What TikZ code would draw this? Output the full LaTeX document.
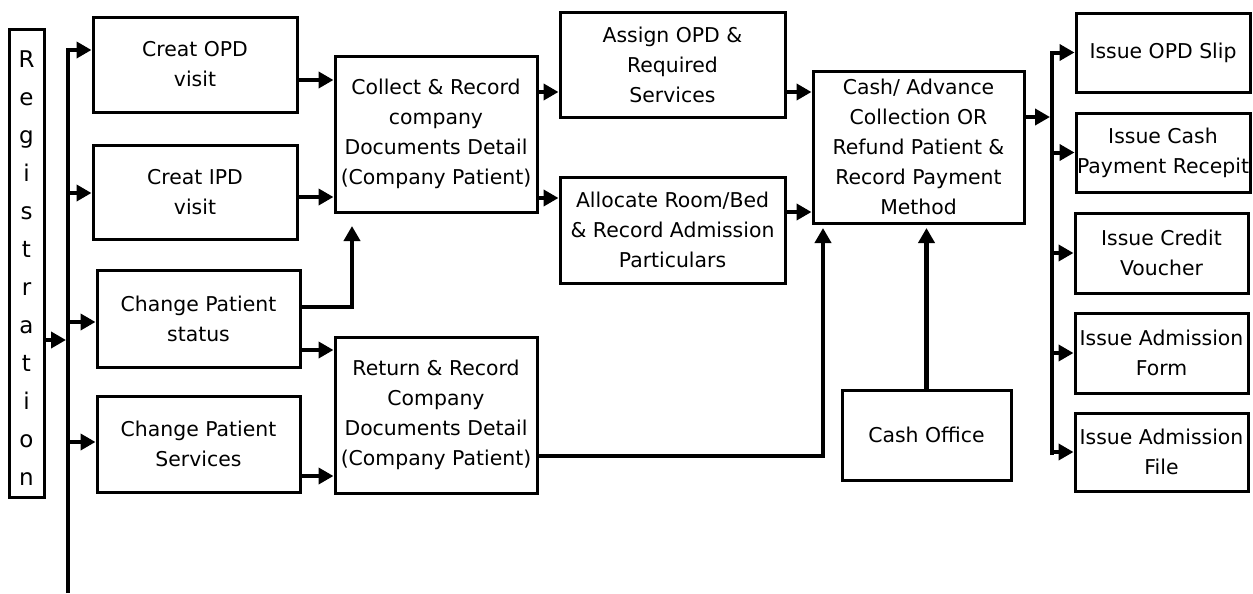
\documentclass[tikz,border=0pt]{standalone}
\usepackage{fontspec}
\setmainfont{DejaVu Sans}
\usetikzlibrary{arrows.meta}
\begin{document}
\begin{tikzpicture}[x=0.5pt,y=-0.5pt,
  box/.style={draw,line width=1.5pt,align=center,inner sep=0pt,font=\fontsize{10.2}{15}\selectfont},
  conn/.style={line width=2pt},
  arr/.style={conn,-{Triangle[length=7.5pt,width=8pt]}}]
\useasboundingbox (0,0) rectangle (1253,594);
% nodes
\node[box,minimum width=17.5pt,minimum height=234pt] (reg) at (26.5,263) {};
\node[font=\fontsize{11.5}{19}\selectfont,align=center,inner sep=0pt] (regtxt) at (26.5,268) {R\\e\\g\\i\\s\\t\\r\\a\\t\\i\\o\\n};
\node[box,minimum width=102pt,minimum height=47.5pt] (opd) at (195,64.5) {Creat OPD\\visit};
\node[box,minimum width=102pt,minimum height=47pt] (ipd) at (195,192) {Creat IPD\\visit};
\node[box,minimum width=101.5pt,minimum height=48.5pt] (cps) at (198.5,318.5) {Change Patient\\status};
\node[box,minimum width=101.5pt,minimum height=48pt] (cpsv) at (198.5,444) {Change Patient\\Services};
\node[box,minimum width=101pt,minimum height=78pt] (collect) at (436,134) {Collect \& Record\\company\\Documents Detail\\(Company Patient)};
\node[box,minimum width=101pt,minimum height=78pt] (return) at (436,415) {Return \& Record\\Company\\Documents Detail\\(Company Patient)};
\node[box,minimum width=112.5pt,minimum height=52.5pt] (assign) at (672.5,64.5) {Assign OPD \&\\Required\\Services};
\node[box,minimum width=112.5pt,minimum height=53pt] (alloc) at (672.5,230) {Allocate Room/Bed\\\& Record Admission\\Particulars};
\node[box,minimum width=105.5pt,minimum height=76pt] (cash) at (918.5,147) {Cash/ Advance\\Collection OR\\Refund Patient \&\\Record Payment\\Method};
\node[box,minimum width=84.5pt,minimum height=45pt] (office) at (926.5,435) {Cash Office};
\node[box,minimum width=87pt,minimum height=39.5pt] (slip) at (1163,52.5) {Issue OPD Slip};
\node[box,minimum width=87pt,minimum height=39.5pt] (receipt) at (1163,152.5) {Issue Cash\\Payment Recepit};
\node[box,minimum width=86.5pt,minimum height=40pt] (voucher) at (1161.5,253) {Issue Credit\\Voucher};
\node[box,minimum width=86.5pt,minimum height=40pt] (aform) at (1161.5,353) {Issue Admission\\Form};
\node[box,minimum width=86.5pt,minimum height=39pt] (afile) at (1161.5,452) {Issue Admission\\File};
% coordinates
\coordinate (bustop) at (68,50);
\coordinate (busbot) at (68,593);
\coordinate (busreg) at (68,340);
\coordinate (cin) at (352,226);
\coordinate (cin2) at (823,228);
\coordinate (rb) at (1052,0);
% left bus
\draw[arr] (busbot) |- (opd.west |- bustop);
\draw[arr] (reg.east |- busreg) -- ([xshift=-1pt]busreg);
\draw[arr] (bustop |- 0,193) -- (ipd.west |- 0,193);
\draw[arr] (bustop |- 0,322) -- (cps.west |- 0,322);
\draw[arr] (bustop |- 0,442) -- (cpsv.west |- 0,442);
% to collect / return
\draw[arr] (opd.east |- 0,80) -- (collect.west |- 0,80);
\draw[arr] (ipd.east |- 0,197) -- (collect.west |- 0,197);
\draw[arr] (cps.east |- 0,307) -| (cin);
\draw[arr] (cps.east |- 0,350) -- (return.west |- 0,350);
\draw[arr] (cpsv.east |- 0,476) -- (return.west |- 0,476);
% middle
\draw[arr] (collect.east |- 0,92) -- (assign.west |- 0,92);
\draw[arr] (collect.east |- 0,198) -- (alloc.west |- 0,198);
\draw[arr] (assign.east |- 0,92) -- (cash.west |- 0,92);
\draw[arr] (alloc.east |- 0,212) -- (cash.west |- 0,212);
\draw[arr] (return.east |- 0,456) -| (cin2);
\draw[arr,line width=2.5pt] (office.north) -- (office.north |- cin2);
% right bus
\draw[arr] (cash.east |- 0,117) -- ([xshift=-1pt]rb |- 0,117);
\draw[arr] (rb |- 0,455) |- (slip.west);
\draw[arr] (rb |- receipt.west) -- (receipt.west);
\draw[arr] (rb |- voucher.west) -- (voucher.west);
\draw[arr] (rb |- aform.west) -- (aform.west);
\draw[arr] (rb |- afile.west) -- (afile.west);
\end{tikzpicture}
\end{document}
